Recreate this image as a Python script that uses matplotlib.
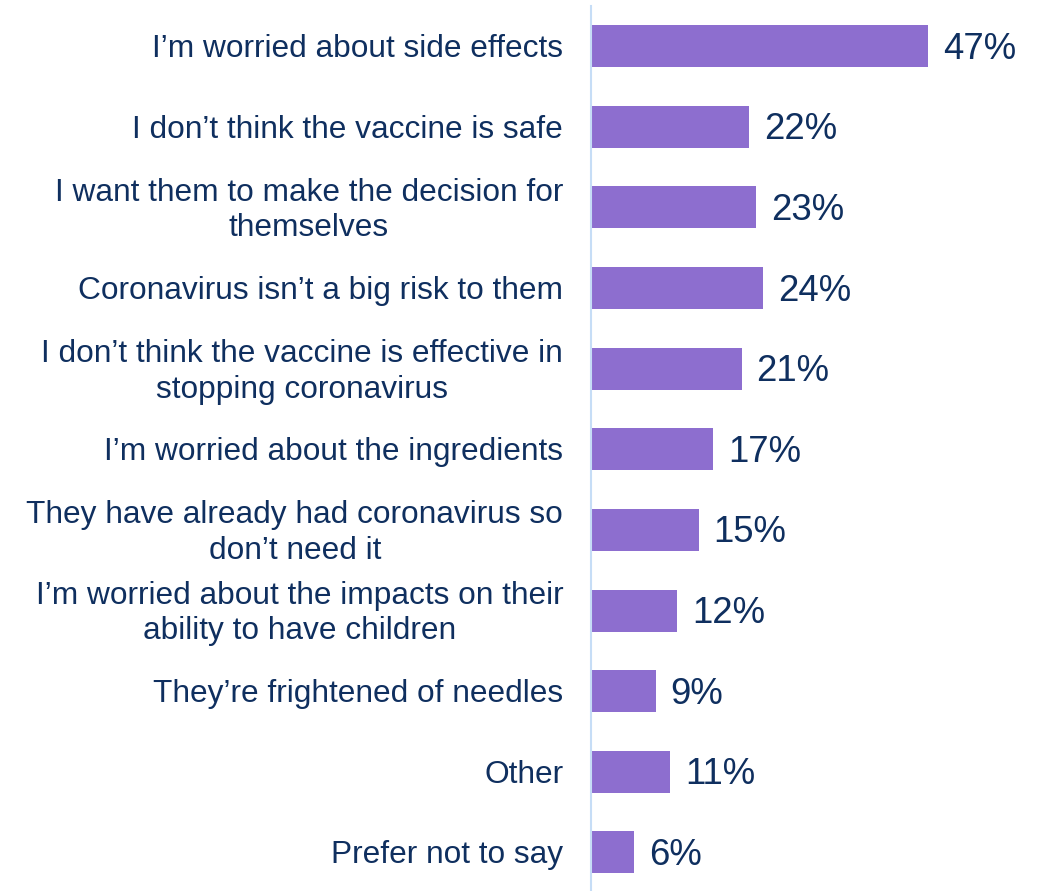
import matplotlib
matplotlib.use("Agg")
import matplotlib.pyplot as plt
import matplotlib.transforms as mtransforms

categories = [
    "I\u2019m worried about side effects",
    "I don\u2019t think the vaccine is safe",
    "I want them to make the decision for\nthemselves",
    "Coronavirus isn\u2019t a big risk to them",
    "I don\u2019t think the vaccine is effective in\nstopping coronavirus",
    "I\u2019m worried about the ingredients",
    "They have already had coronavirus so\ndon\u2019t need it",
    "I\u2019m worried about the impacts on their\nability to have children",
    "They\u2019re frightened of needles",
    "Other",
    "Prefer not to say",
]
values = [47, 22, 23, 24, 21, 17, 15, 12, 9, 11, 6]

bar_color = "#8d6ecf"
text_color = "#0f2f5f"
axis_color = "#c6ddf6"

plt.rcParams["font.family"] = ["Liberation Sans", "DejaVu Sans"]

fig = plt.figure(figsize=(10.45, 8.91), dpi=100)
ax = fig.add_axes([591 / 1045, -0.002, 430 / 1045, 0.9955])

y = list(range(len(categories)))
ax.barh(y, values, height=0.52, color=bar_color, zorder=2)

ax.set_ylim(len(categories) - 0.5, -0.5)
ax.set_xlim(0, 60)

ax.set_yticks(y)
ax.set_yticklabels(categories, fontsize=22.8, color=text_color,
                   linespacing=1.25, ha="right", va="center")
ax.tick_params(axis="y", length=0, pad=20)
ax.set_xticks([])

shift_down = mtransforms.ScaledTranslation(0, -3 / 100, fig.dpi_scale_trans)
for label in ax.get_yticklabels():
    label.set_multialignment("center")
    label.set_transform(label.get_transform() + shift_down)

for spine in ["top", "right", "bottom"]:
    ax.spines[spine].set_visible(False)
ax.spines["left"].set_color(axis_color)
ax.spines["left"].set_linewidth(1.5)

for yi, v in zip(y, values):
    ax.annotate(f"{v}%", xy=(v, yi), xytext=(15, -3), textcoords="offset pixels",
                fontsize=26.3, color=text_color, va="center", ha="left")

fig.savefig("out.png", dpi=100, facecolor="white")
